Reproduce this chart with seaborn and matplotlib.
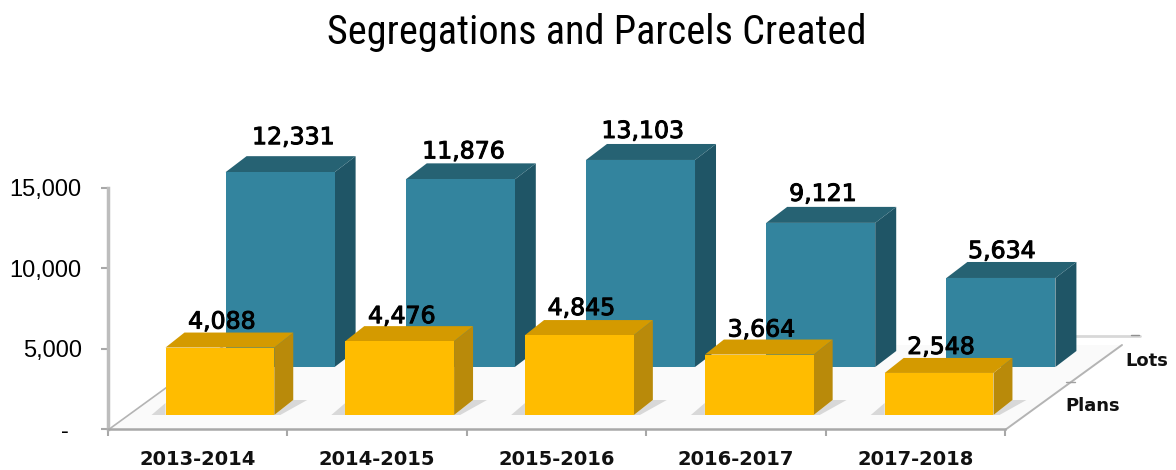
import seaborn as sns
import matplotlib.pyplot as plt
import matplotlib.patheffects as pe

years = ["2013-2014", "2014-2015", "2015-2016", "2016-2017", "2017-2018"]
lots = [12331, 11876, 13103, 9121, 5634]
plans = [4088, 4476, 4845, 3664, 2548]
y_ticks = [0, 5000, 10000, 15000]
y_tick_labels = ["-  ", "5,000", "10,000", "15,000"]
series_names = ["Lots", "Plans"]
title = "Segregations and Parcels Created"

W, H = 1176, 470
SLOT = 180.2  # px per category

sns.set_theme(style="white")
plt.rcParams["font.family"] = ["Liberation Sans", "DejaVu Sans"]


def px_axes(fig, left, right, bottom, top, zorder):
    ax = fig.add_axes([left / W, 1 - bottom / H, (right - left) / W, (bottom - top) / H])
    ax.set_zorder(zorder)
    ax.patch.set_alpha(0)
    return ax


def bars_3d(ax, values, face, side, roof, depth, px_per_k, nudges, shadow=None):
    sns.barplot(x=years, y=values, ax=ax, color=face, saturation=1, width=0.605, linewidth=0, zorder=3)
    ax.set_xlim(-0.5, 4.5)
    ax.set_ylim(0, 15000)
    ax.axis("off")
    dx = depth[0] / SLOT
    dy = depth[1] / px_per_k * 1000
    for bar, val, nudge in zip(ax.patches, values, nudges):
        x0, x1 = bar.get_x(), bar.get_x() + bar.get_width()
        top = bar.get_height()
        if shadow:
            # soft ground shadow either side of the bar
            ax.fill([x1, x1 + dx, x1 + dx + 14 / SLOT, x1 + 6 / SLOT], [0, dy, dy, 0],
                    color=shadow, lw=0, clip_on=False, zorder=1)
            ax.fill([x0 - 14 / SLOT, x0, x0], [0, dy * 0.8, 0], color=shadow, lw=0, clip_on=False, zorder=1)
        ax.fill([x1, x1 + dx, x1 + dx, x1], [0, dy, top + dy, top], color=side, lw=0, clip_on=False, zorder=2)
        ax.fill([x0, x0 + dx, x1 + dx, x1], [top, top + dy, top + dy, top], color=roof, lw=0, clip_on=False, zorder=2)
        txt = ax.annotate(f"{val:,}", xy=((x0 + x1) / 2, top), xytext=(nudge[0] * 0.72, nudge[1] * 0.72),
                          textcoords="offset points", ha="center", va="center", fontsize=17,
                          family="DejaVu Sans", color="black", annotation_clip=False, zorder=5)
        txt.set_path_effects([pe.withStroke(linewidth=0.7, foreground="black")])


fig = plt.figure(figsize=(W / 100, H / 100), dpi=100, facecolor="white")

# floor and side walls, in pixels
bg = px_axes(fig, 0, W, H, 0, 0)
bg.set_xlim(0, W)
bg.set_ylim(H, 0)
bg.axis("off")
bg.fill([108, 1005, 1122, 225], [430, 430, 345, 345], color="#fafafa", lw=0)
bg.plot([108, 225], [430, 345], color="#b4b4b4", lw=1.2)
bg.plot([1005, 1122], [430, 345], color="#b4b4b4", lw=1.4)
bg.plot([1075, 1140], [336, 336], color="#d8d8d8", lw=2)
bg.plot([1131, 1139], [335, 335], color="#909090", lw=1)
bg.plot([1066, 1075], [382, 382], color="#a0a0a0", lw=1)

# value axis + category axis
base = px_axes(fig, 108, 1005, 429, 188, 1)
base.set_xlim(-0.5, 4.5)
base.set_ylim(0, 15000)
base.set_yticks(y_ticks, y_tick_labels)
base.set_xticks(range(len(years)), years, family="DejaVu Sans", fontweight="bold", fontsize=14)
base.set_xticks([i - 0.5 for i in range(len(years) + 1)], minor=True)
base.tick_params(axis="x", which="major", length=0, pad=15, colors="#111111")
base.tick_params(axis="x", which="minor", length=5, width=1.5, color="#a8a8a8", bottom=True)
base.tick_params(axis="y", length=5, width=1.5, color="#a8a8a8", labelsize=17, pad=14, left=True, labelcolor="black")
sns.despine(ax=base)
base.spines["left"].set_color("#bdbdbd")
base.spines["left"].set_linewidth(2.5)
base.spines["bottom"].set_color("#a8a8a8")
base.spines["bottom"].set_linewidth(1.8)

back = px_axes(fig, 190, 1091, 367, 367 - 15.8 * 15, 2)
bars_3d(back, lots, "#33849e", "#1f5566", "#266273", (21, 16), 15.8,
        [(13, 35), (3, 28), (2, 29), (2, 29), (1, 27)])

front = px_axes(fig, 130, 1029, 415, 415 - 16.5 * 15, 3)
bars_3d(front, plans, "#ffbc00", "#b98a0a", "#d49a00", (19, 15), 16.5,
        [(2, 26), (2, 25), (2, 27), (2, 25), (2, 26)], shadow="#d8d8d8")

fig.text(1147 / W, 1 - 361 / H, series_names[0], ha="center", va="center", family="DejaVu Sans",
         fontweight="bold", fontsize=13, color="#111111")
fig.text(1093 / W, 1 - 406 / H, series_names[1], ha="center", va="center", family="DejaVu Sans",
         fontweight="bold", fontsize=13, color="#111111")
fig.text(597 / W, 1 - 32 / H, title, ha="center", va="center", family="Roboto Condensed", fontsize=29, color="black")

fig.savefig("out.png", dpi=100)
